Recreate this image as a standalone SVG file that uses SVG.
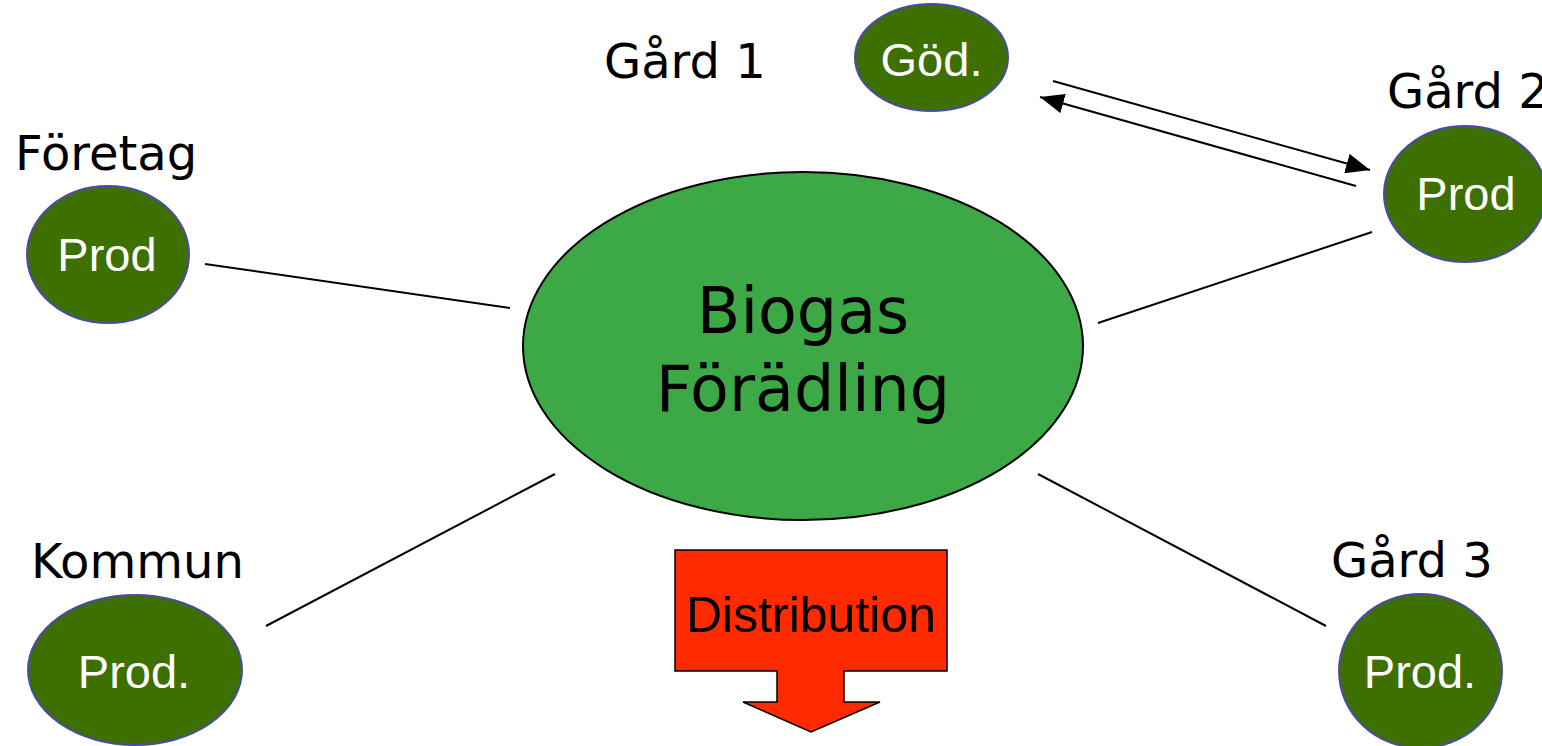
<svg xmlns="http://www.w3.org/2000/svg" width="1542" height="746" viewBox="0 0 1542 746">
<defs>
<style>
.node{fill:#3d7000;stroke:#4a4aa8;stroke-width:2}
.lbl{font-family:"DejaVu Sans",sans-serif;font-size:48px;fill:#000}
.in{font-family:"Liberation Sans",Arial,sans-serif;font-size:47px;fill:#fff;text-anchor:middle}
.ln{stroke:#000;stroke-width:2;fill:none}
</style>
<marker id="ah2" viewBox="0 0 24 20" refX="24" refY="10" markerWidth="24" markerHeight="20" markerUnits="userSpaceOnUse" orient="auto">
<path d="M0,0 L24,10 L0,20 z" fill="#000"/>
</marker>
</defs>
<rect width="1542" height="746" fill="#fff"/>
<g id="connectors">
<line class="ln" x1="205" y1="264" x2="510" y2="308"/>
<line class="ln" x1="266" y1="626" x2="555" y2="474"/>
<line class="ln" x1="1038" y1="474" x2="1326" y2="626"/>
<line class="ln" x1="1098" y1="323" x2="1372" y2="232"/>
<line class="ln" x1="1053" y1="81" x2="1370" y2="170" marker-end="url(#ah2)"/>
<line class="ln" x1="1356" y1="186" x2="1040" y2="97" marker-end="url(#ah2)"/>
</g>
<g id="biogas">
<ellipse cx="803" cy="346" rx="280" ry="174" fill="#3da846" stroke="#000" stroke-width="2"/>
<text x="803" y="333" font-family="DejaVu Sans,sans-serif" font-size="63.5" text-anchor="middle">Biogas</text>
<text x="803" y="411" font-family="DejaVu Sans,sans-serif" font-size="63.5" text-anchor="middle">Förädling</text>
</g>
<g id="gard1">
<text class="lbl" x="604" y="78">Gård 1</text>
<ellipse class="node" cx="931.5" cy="57.5" rx="76.5" ry="53.5"/>
<text class="in" x="931.5" y="76" font-size="49">Göd.</text>
</g>
<g id="gard2">
<text class="lbl" x="1387" y="108">Gård 2</text>
<ellipse class="node" cx="1465" cy="194" rx="81" ry="68"/>
<text class="in" x="1466" y="210">Prod</text>
</g>
<g id="foretag">
<text class="lbl" x="15" y="170">Företag</text>
<ellipse class="node" cx="108" cy="254.5" rx="81" ry="68.5"/>
<text class="in" x="107" y="271">Prod</text>
</g>
<g id="kommun">
<text class="lbl" x="31" y="578">Kommun</text>
<ellipse class="node" cx="135" cy="670" rx="107" ry="75"/>
<text class="in" x="134" y="688">Prod.</text>
</g>
<g id="gard3">
<text class="lbl" x="1331" y="577">Gård 3</text>
<ellipse class="node" cx="1420.5" cy="671" rx="81.5" ry="77"/>
<text class="in" x="1420" y="688">Prod.</text>
</g>
<g id="distribution">
<path d="M675,550 L947,550 L947,671 L844,671 L844,702 L880,702 L811,732 L743,702 L777,702 L777,671 L675,671 Z" fill="#ff2a00" stroke="#000" stroke-width="1.5"/>
<text x="811" y="632" font-family="Liberation Sans,Arial,sans-serif" font-size="50" text-anchor="middle" fill="#000">Distribution</text>
</g>
</svg>
